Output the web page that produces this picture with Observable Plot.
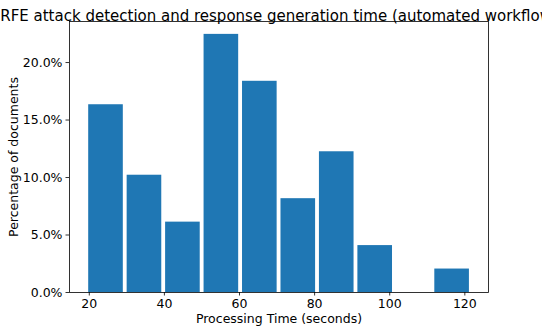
<!DOCTYPE html>
<html>
<head>
<meta charset="utf-8">
<script src="https://cdn.jsdelivr.net/npm/d3@7"></script>
<script src="https://cdn.jsdelivr.net/npm/@observablehq/plot@0.6"></script>
<style>
  html, body { margin: 0; padding: 0; background: #fff; }
</style>
</head>
<body>
<div id="chart"></div>
<script>
const titleText = "RFE attack detection and response generation time (automated workflow)";
const xLabel = "Processing Time (seconds)";
const yLabel = "Percentage of documents";
const binStart = [19.33, 29.57, 39.81, 50.05, 60.29, 70.53, 80.77, 91.01, 101.25, 111.49];
const binWidth = 10.24;
const rwidth = 0.9;
const percents = [16.33, 10.20, 6.12, 22.45, 18.37, 8.16, 12.24, 4.08, 0, 2.04];
const xTicks = [20, 40, 60, 80, 100, 120];
const yTicks = [0, 5, 10, 15, 20];

const bars = binStart.map((s, i) => {
  const pad = binWidth * (1 - rwidth) / 2;
  return { x1: s + pad, x2: s + binWidth - pad, y: percents[i] };
}).filter(d => d.y > 0);

const chart = Plot.plot({
  width: 542,
  height: 332,
  marginLeft: 69,
  marginRight: 54,
  marginTop: 21,
  marginBottom: 40,
  style: { fontFamily: "'DejaVu Sans', sans-serif", fontSize: "12.5px", color: "#000", background: "#fff", overflow: "visible" },
  x: { domain: [14.73, 126.3], label: null },
  y: { domain: [0, 23.57], label: null },
  marks: [
    Plot.rectY(bars, { x1: "x1", x2: "x2", y: "y", fill: "#1f77b4" }),
    Plot.frame({ stroke: "#000", strokeWidth: 0.8 }),
    Plot.axisX({ ticks: xTicks, tickSize: 3.5, tickPadding: 3.5, fontSize: 12.5, label: null, stroke: "#000", strokeWidth: 0.8 }),
    Plot.axisY({ ticks: yTicks, tickSize: 3.5, tickPadding: 3.5, fontSize: 12.5, label: null, tickFormat: d => d.toFixed(1) + "%", stroke: "#000", strokeWidth: 0.8 }),
    Plot.text([xLabel], { frameAnchor: "bottom", dy: 30, text: d => d, fontSize: 12.5, fill: "#000" }),
    Plot.text([yLabel], { frameAnchor: "left", textAnchor: "middle", dx: -56, rotate: -90, text: d => d, fontSize: 12.5, fill: "#000" }),
    Plot.text([titleText], { frameAnchor: "top", dy: -11, text: d => d, fontSize: 15, fill: "#000" })
  ]
});
document.getElementById("chart").appendChild(chart);
</script>
</body>
</html>
